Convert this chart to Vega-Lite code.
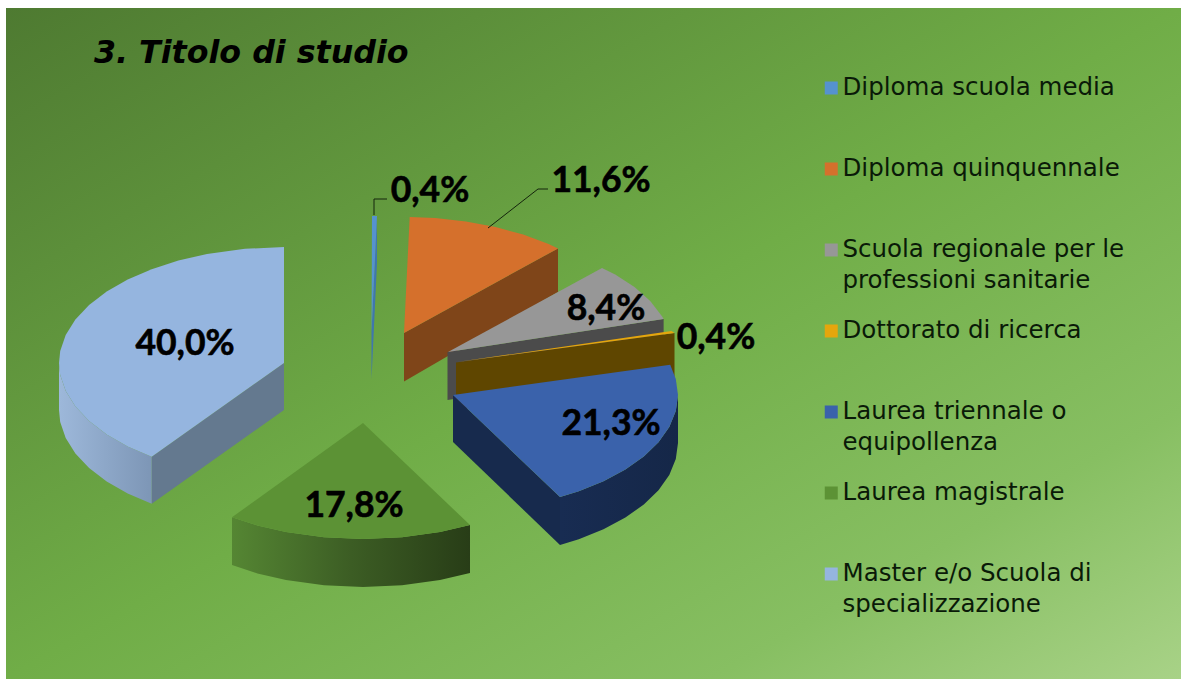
{
"$schema":"https://vega.github.io/schema/vega-lite/v6.json",
"width":1175,"height":671,
"autosize":{"type":"none"},
"padding":{"left":6,"top":8,"right":0,"bottom":0},
"background":"#ffffff",
"view":{"stroke":null,"fill":{"gradient":"linear","x1":0,"y1":0,"x2":1,"y2":1,"stops":[{"offset":0,"color":"#4e7a31"},{"offset":0.5,"color":"#70ad47"},{"offset":0.8,"color":"#87bf62"},{"offset":1,"color":"#a8d287"}]}},
"title":{"text":"3. Titolo di studio","anchor":"start","frame":"group","orient":"top","offset":-62,"dx":88,"font":"DejaVu Sans","fontSize":31.7,"fontWeight":"bold","fontStyle":"italic","color":"#000000"},
"datasets":{
"valori":[
{"categoria":"Diploma scuola media","valore":0.4,"etichetta":"0,4%","x":430,"y":191},
{"categoria":"Diploma quinquennale","valore":11.6,"etichetta":"11,6%","x":601,"y":181},
{"categoria":"Scuola regionale per le professioni sanitarie","valore":8.4,"etichetta":"8,4%","x":606,"y":309},
{"categoria":"Dottorato di ricerca","valore":0.4,"etichetta":"0,4%","x":716,"y":338},
{"categoria":"Laurea triennale o equipollenza","valore":21.3,"etichetta":"21,3%","x":611,"y":424},
{"categoria":"Laurea magistrale","valore":17.8,"etichetta":"17,8%","x":354,"y":506},
{"categoria":"Master e/o Scuola di specializzazione","valore":40.0,"etichetta":"40,0%","x":185,"y":344}
],
"richiami":[
{"c":"a","n":0,"x":374,"y":215},{"c":"a","n":1,"x":374,"y":199},{"c":"a","n":2,"x":387,"y":199},
{"c":"b","n":0,"x":488,"y":228},{"c":"b","n":1,"x":538,"y":189},{"c":"b","n":2,"x":548,"y":189}
],
"superfici":[
{"categoria":"Diploma scuola media","n":0,"x":371.5,"y":332},{"categoria":"Diploma scuola media","n":1,"x":372,"y":216},{"categoria":"Diploma scuola media","n":2,"x":377,"y":216},
{"categoria":"Diploma quinquennale","n":0,"x":404,"y":333},{"categoria":"Diploma quinquennale","n":1,"x":409.7,"y":217},{"categoria":"Diploma quinquennale","n":2,"x":435.3,"y":218.1},{"categoria":"Diploma quinquennale","n":3,"x":466,"y":221.5},{"categoria":"Diploma quinquennale","n":4,"x":495.5,"y":227},{"categoria":"Diploma quinquennale","n":5,"x":523.2,"y":234.6},{"categoria":"Diploma quinquennale","n":6,"x":548.6,"y":244.1},{"categoria":"Diploma quinquennale","n":7,"x":558,"y":248.4},
{"categoria":"Scuola regionale per le professioni sanitarie","n":0,"x":448,"y":352},{"categoria":"Scuola regionale per le professioni sanitarie","n":1,"x":602,"y":268},{"categoria":"Scuola regionale per le professioni sanitarie","n":2,"x":615.2,"y":274.4},{"categoria":"Scuola regionale per le professioni sanitarie","n":3,"x":634.5,"y":287.1},{"categoria":"Scuola regionale per le professioni sanitarie","n":4,"x":650.2,"y":301.1},{"categoria":"Scuola regionale per le professioni sanitarie","n":5,"x":662,"y":316.2},{"categoria":"Scuola regionale per le professioni sanitarie","n":6,"x":663.6,"y":319},
{"categoria":"Dottorato di ricerca","n":0,"x":457,"y":362},{"categoria":"Dottorato di ricerca","n":1,"x":671.5,"y":331},{"categoria":"Dottorato di ricerca","n":2,"x":674.5,"y":333},
{"categoria":"Laurea triennale o equipollenza","n":0,"x":453,"y":395},{"categoria":"Laurea triennale o equipollenza","n":1,"x":670.2,"y":364.8},{"categoria":"Laurea triennale o equipollenza","n":2,"x":675.8,"y":378.9},{"categoria":"Laurea triennale o equipollenza","n":3,"x":678,"y":395},{"categoria":"Laurea triennale o equipollenza","n":4,"x":675.8,"y":411.1},{"categoria":"Laurea triennale o equipollenza","n":5,"x":669.3,"y":427},{"categoria":"Laurea triennale o equipollenza","n":6,"x":658.5,"y":442.2},{"categoria":"Laurea triennale o equipollenza","n":7,"x":643.8,"y":456.5},{"categoria":"Laurea triennale o equipollenza","n":8,"x":625.4,"y":469.6},{"categoria":"Laurea triennale o equipollenza","n":9,"x":603.5,"y":481.2},{"categoria":"Laurea triennale o equipollenza","n":10,"x":578.8,"y":491.2},{"categoria":"Laurea triennale o equipollenza","n":11,"x":560,"y":497},
{"categoria":"Laurea magistrale","n":0,"x":363,"y":423},{"categoria":"Laurea magistrale","n":1,"x":470,"y":525},{"categoria":"Laurea magistrale","n":2,"x":440,"y":532},{"categoria":"Laurea magistrale","n":3,"x":402,"y":537.2},{"categoria":"Laurea magistrale","n":4,"x":363,"y":539},{"categoria":"Laurea magistrale","n":5,"x":324,"y":537.2},{"categoria":"Laurea magistrale","n":6,"x":286,"y":532},{"categoria":"Laurea magistrale","n":7,"x":257.4,"y":525.4},{"categoria":"Laurea magistrale","n":8,"x":232,"y":517.3},
{"categoria":"Master e/o Scuola di specializzazione","n":0,"x":284,"y":363},{"categoria":"Master e/o Scuola di specializzazione","n":1,"x":151.7,"y":456.8},{"categoria":"Master e/o Scuola di specializzazione","n":2,"x":127.7,"y":446.4},{"categoria":"Master e/o Scuola di specializzazione","n":3,"x":106.7,"y":434.4},{"categoria":"Master e/o Scuola di specializzazione","n":4,"x":89.1,"y":421},{"categoria":"Master e/o Scuola di specializzazione","n":5,"x":75.4,"y":406.5},{"categoria":"Master e/o Scuola di specializzazione","n":6,"x":65.7,"y":391.1},{"categoria":"Master e/o Scuola di specializzazione","n":7,"x":60.2,"y":375.1},{"categoria":"Master e/o Scuola di specializzazione","n":8,"x":59,"y":363},{"categoria":"Master e/o Scuola di specializzazione","n":9,"x":60.2,"y":350.9},{"categoria":"Master e/o Scuola di specializzazione","n":10,"x":65.7,"y":334.9},{"categoria":"Master e/o Scuola di specializzazione","n":11,"x":75.4,"y":319.5},{"categoria":"Master e/o Scuola di specializzazione","n":12,"x":89.1,"y":305},{"categoria":"Master e/o Scuola di specializzazione","n":13,"x":106.7,"y":291.6},{"categoria":"Master e/o Scuola di specializzazione","n":14,"x":127.7,"y":279.6},{"categoria":"Master e/o Scuola di specializzazione","n":15,"x":151.7,"y":269.2},{"categoria":"Master e/o Scuola di specializzazione","n":16,"x":178.4,"y":260.6},{"categoria":"Master e/o Scuola di specializzazione","n":17,"x":207,"y":254},{"categoria":"Master e/o Scuola di specializzazione","n":18,"x":245,"y":248.8},{"categoria":"Master e/o Scuola di specializzazione","n":19,"x":284,"y":247}
],
"fianchi":[
{"f":"media","n":0,"x":371.5,"y":332},{"f":"media","n":1,"x":377,"y":216},{"f":"media","n":2,"x":377,"y":263},{"f":"media","n":3,"x":371.5,"y":379},
{"f":"quinq","n":0,"x":404,"y":333},{"f":"quinq","n":1,"x":558,"y":248.4},{"f":"quinq","n":2,"x":558,"y":292},{"f":"quinq","n":3,"x":404,"y":381.5},
{"f":"scuola","n":0,"x":447.5,"y":352},{"f":"scuola","n":1,"x":663.6,"y":319},{"f":"scuola","n":2,"x":663.6,"y":367},{"f":"scuola","n":3,"x":447.5,"y":400},
{"f":"dott","n":0,"x":456,"y":362.5},{"f":"dott","n":1,"x":674.5,"y":333},{"f":"dott","n":2,"x":674.5,"y":381},{"f":"dott","n":3,"x":456,"y":410},
{"f":"trienR","n":0,"x":453,"y":395},{"f":"trienR","n":1,"x":560,"y":497},{"f":"trienR","n":2,"x":560,"y":545},{"f":"trienR","n":3,"x":453,"y":442},
{"f":"trienC","n":0,"x":678,"y":395},{"f":"trienC","n":1,"x":675.8,"y":411.1},{"f":"trienC","n":2,"x":669.3,"y":427},{"f":"trienC","n":3,"x":658.5,"y":442.2},{"f":"trienC","n":4,"x":643.8,"y":456.5},{"f":"trienC","n":5,"x":625.4,"y":469.6},{"f":"trienC","n":6,"x":603.5,"y":481.2},{"f":"trienC","n":7,"x":578.8,"y":491.2},{"f":"trienC","n":8,"x":560,"y":497},{"f":"trienC","n":9,"x":560,"y":545},{"f":"trienC","n":10,"x":578.8,"y":539.2},{"f":"trienC","n":11,"x":603.5,"y":529.2},{"f":"trienC","n":12,"x":625.4,"y":517.6},{"f":"trienC","n":13,"x":643.8,"y":504.5},{"f":"trienC","n":14,"x":658.5,"y":490.2},{"f":"trienC","n":15,"x":669.3,"y":475},{"f":"trienC","n":16,"x":675.8,"y":459.1},{"f":"trienC","n":17,"x":678,"y":443},
{"f":"magC","n":0,"x":470,"y":525},{"f":"magC","n":1,"x":440,"y":532},{"f":"magC","n":2,"x":402,"y":537.2},{"f":"magC","n":3,"x":363,"y":539},{"f":"magC","n":4,"x":324,"y":537.2},{"f":"magC","n":5,"x":286,"y":532},{"f":"magC","n":6,"x":257.4,"y":525.4},{"f":"magC","n":7,"x":232,"y":517.3},{"f":"magC","n":8,"x":232,"y":565},{"f":"magC","n":9,"x":257.4,"y":573.4},{"f":"magC","n":10,"x":286,"y":580},{"f":"magC","n":11,"x":324,"y":585.2},{"f":"magC","n":12,"x":363,"y":587},{"f":"magC","n":13,"x":402,"y":585.2},{"f":"magC","n":14,"x":440,"y":580},{"f":"magC","n":15,"x":470,"y":573},
{"f":"masR","n":0,"x":284,"y":363},{"f":"masR","n":1,"x":151.7,"y":456.8},{"f":"masR","n":2,"x":151.7,"y":503.8},{"f":"masR","n":3,"x":284,"y":410},
{"f":"masC","n":0,"x":151.7,"y":456.8},{"f":"masC","n":1,"x":127.7,"y":446.4},{"f":"masC","n":2,"x":106.7,"y":434.4},{"f":"masC","n":3,"x":89.1,"y":421},{"f":"masC","n":4,"x":75.4,"y":406.5},{"f":"masC","n":5,"x":65.7,"y":391.1},{"f":"masC","n":6,"x":60.2,"y":375.1},{"f":"masC","n":7,"x":59,"y":363},{"f":"masC","n":8,"x":59,"y":410},{"f":"masC","n":9,"x":60.2,"y":422.1},{"f":"masC","n":10,"x":65.7,"y":438.1},{"f":"masC","n":11,"x":75.4,"y":453.5},{"f":"masC","n":12,"x":89.1,"y":468},{"f":"masC","n":13,"x":106.7,"y":481.4},{"f":"masC","n":14,"x":127.7,"y":493.4},{"f":"masC","n":15,"x":151.7,"y":503.8}
]
},
"encoding":{
"x":{"field":"x","type":"quantitative","axis":null,"scale":{"domain":[6,1181],"nice":false,"zero":false}},
"y":{"field":"y","type":"quantitative","axis":null,"scale":{"domain":[679,8],"nice":false,"zero":false}}
},
"layer":[
{"data":{"name":"fianchi"},"transform":[{"filter":"datum.f=='media'"}],"mark":{"type":"line","fill":"#3f77ad","strokeWidth":0},"encoding":{"order":{"field":"n"}}},
{"data":{"name":"fianchi"},"transform":[{"filter":"datum.f=='quinq'"}],"mark":{"type":"line","fill":"#7f4519","strokeWidth":0},"encoding":{"order":{"field":"n"}}},
{"data":{"name":"fianchi"},"transform":[{"filter":"datum.f=='scuola'"}],"mark":{"type":"line","fill":"#4b4b4b","strokeWidth":0},"encoding":{"order":{"field":"n"}}},
{"data":{"name":"fianchi"},"transform":[{"filter":"datum.f=='dott'"}],"mark":{"type":"line","fill":"#5f4600","strokeWidth":0},"encoding":{"order":{"field":"n"}}},
{"data":{"name":"fianchi"},"transform":[{"filter":"datum.f=='trienR'"}],"mark":{"type":"line","fill":"#172a4d","strokeWidth":0},"encoding":{"order":{"field":"n"}}},
{"data":{"name":"fianchi"},"transform":[{"filter":"datum.f=='trienC'"}],"mark":{"type":"line","fill":{"gradient":"linear","x1":0,"y1":0,"x2":1,"y2":0,"stops":[{"offset":0,"color":"#182c52"},{"offset":1,"color":"#152748"}]},"strokeWidth":0},"encoding":{"order":{"field":"n"}}},
{"data":{"name":"fianchi"},"transform":[{"filter":"datum.f=='magC'"}],"mark":{"type":"line","fill":{"gradient":"linear","x1":0,"y1":0,"x2":1,"y2":0,"stops":[{"offset":0,"color":"#558633"},{"offset":0.5,"color":"#3c5d24"},{"offset":1,"color":"#283d17"}]},"strokeWidth":0},"encoding":{"order":{"field":"n"}}},
{"data":{"name":"fianchi"},"transform":[{"filter":"datum.f=='masR'"}],"mark":{"type":"line","fill":"#64798f","strokeWidth":0},"encoding":{"order":{"field":"n"}}},
{"data":{"name":"fianchi"},"transform":[{"filter":"datum.f=='masC'"}],"mark":{"type":"line","fill":{"gradient":"linear","x1":0,"y1":0,"x2":1,"y2":0,"stops":[{"offset":0,"color":"#9db8da"},{"offset":1,"color":"#7d96b6"}]},"strokeWidth":0},"encoding":{"order":{"field":"n"}}},
{"data":{"name":"superfici"},"mark":{"type":"line","strokeWidth":0},"encoding":{"order":{"field":"n"},"fill":{"field":"categoria","type":"nominal","sort":null,
"scale":{"domain":["Diploma scuola media","Diploma quinquennale","Scuola regionale per le professioni sanitarie","Dottorato di ricerca","Laurea triennale o equipollenza","Laurea magistrale","Master e/o Scuola di specializzazione"],"range":["#5592cf","#d5702c","#979797","#e5a60c","#3a62ab","#5c9235","#95b5df"]},
"legend":{"title":null,"orient":"none","legendX":813,"legendY":68,"gridAlign":"all","symbolType":"square","symbolSize":169,"symbolStrokeWidth":0,"labelFont":"DejaVu Sans","labelFontSize":24.5,"labelColor":"#0a1a08","labelLimit":0,"labelOffset":-1,"rowPadding":25,"labelExpr":"datum.label=='Scuola regionale per le professioni sanitarie'?['Scuola regionale per le','professioni sanitarie']:datum.label=='Laurea triennale o equipollenza'?['Laurea triennale o','equipollenza']:datum.label=='Master e/o Scuola di specializzazione'?['Master e/o Scuola di','specializzazione']:datum.label","labelBaseline":"top","encoding":{"symbols":{"y":{"value":12},"fillOpacity":{"value":1}},"labels":{"y":{"value":0},"lineHeight":{"value":31}}}}}}},
{"data":{"name":"richiami"},"mark":{"type":"line","stroke":"#14240c","strokeWidth":1},"encoding":{"detail":{"field":"c"},"order":{"field":"n"}}},
{"data":{"name":"valori"},"mark":{"type":"text","font":"Lato","fontWeight":"bold","fontSize":35.5,"color":"#000000","stroke":"#000000","strokeWidth":0.6,"align":"center","baseline":"middle"},"encoding":{"text":{"field":"etichetta","type":"nominal"}}}
]
}
